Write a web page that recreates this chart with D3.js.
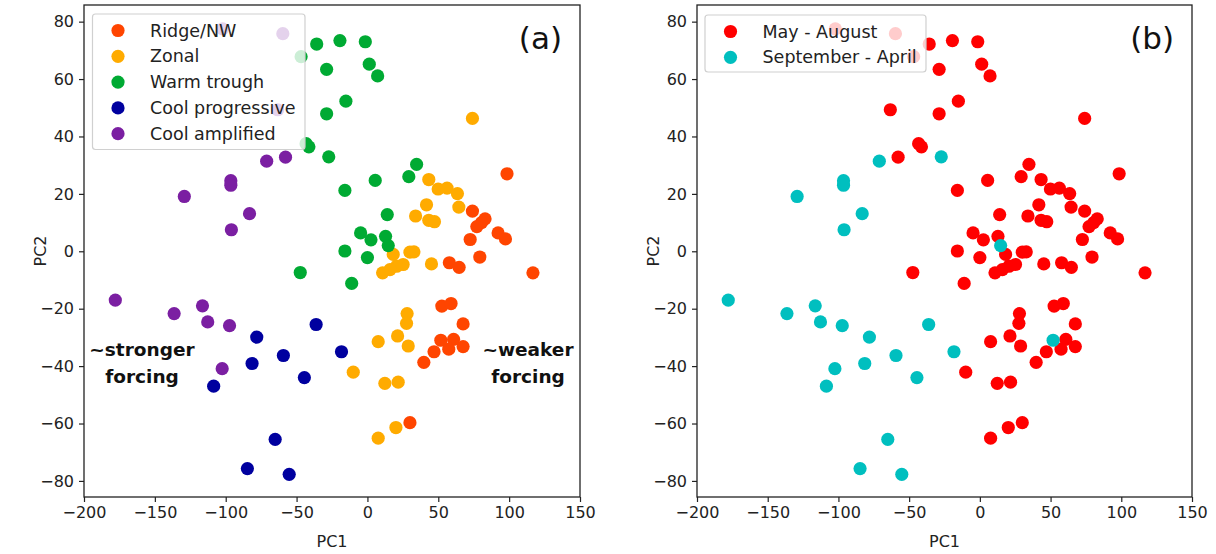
<!DOCTYPE html>
<html>
<head>
<meta charset="utf-8">
<script src="https://cdn.jsdelivr.net/npm/d3@7"></script>
<style>
  body { margin: 0; background: #fff; }
  svg { display: block; font-family: "DejaVu Sans", sans-serif; }
</style>
</head>
<body>
<svg id="chart" width="1216" height="554"></svg>
<script>
// categories
const regimes = ["Ridge/NW", "Zonal", "Warm trough", "Cool progressive", "Cool amplified"];
const regimeColors = ["#ff4500", "#ffab00", "#00aa33", "#00009f", "#7b1fa2"];
const seasons = ["May - August", "September - April"];
const seasonColors = ["#ff0000", "#00bfbf"];

// points per regime: [PC1, PC2, season index]
const ridgeNW = [
  [98.5, 27.0, 0], [74.1, 14.0, 0], [83.0, 11.3, 0], [80.5, 10.0, 0], [77.2, 8.6, 0],
  [92.2, 6.4, 0], [97.4, 4.3, 0], [72.5, 4.1, 0], [79.3, -2.0, 0], [57.8, -4.0, 0],
  [64.7, -5.6, 0], [116.8, -7.5, 0], [52.5, -19.1, 0], [59.0, -18.2, 0], [67.5, -25.3, 0],
  [51.8, -31.0, 1], [60.8, -30.7, 0], [67.5, -33.2, 0], [57.4, -34.1, 0], [47.0, -35.0, 0],
  [39.8, -38.7, 0], [30.0, -59.7, 0]
];
const zonal = [
  [74.1, 46.3, 0], [43.3, 25.0, 0], [49.9, 21.7, 0], [56.2, 22.0, 0], [63.5, 20.1, 0],
  [41.7, 16.2, 0], [64.5, 15.4, 0], [34.0, 12.3, 0], [43.3, 10.8, 0], [47.3, 10.3, 0],
  [18.2, -1.1, 0], [30.0, -0.3, 0], [32.8, -0.2, 0], [25.2, -4.6, 0], [20.6, -5.2, 0],
  [15.9, -6.4, 0], [10.7, -7.5, 0], [45.2, -4.4, 0], [28.0, -21.7, 0], [27.6, -25.1, 0],
  [21.3, -29.5, 0], [7.6, -31.5, 0], [28.8, -33.0, 0], [-10.0, -42.1, 0], [12.3, -46.0, 0],
  [21.7, -45.6, 0], [20.1, -61.4, 0], [7.6, -65.1, 0]
];
const warmTrough = [
  [-35.8, 72.2, 0], [-19.4, 73.4, 0], [-1.5, 73.0, 0], [-46.8, 67.8, 0], [-28.8, 63.4, 0],
  [1.3, 65.2, 0], [7.2, 61.1, 0], [-15.2, 52.3, 0], [-28.8, 47.9, 0], [-43.3, 37.5, 0],
  [-41.3, 36.4, 0], [-27.3, 32.9, 1], [34.7, 30.3, 0], [29.2, 26.0, 0], [5.5, 24.7, 0],
  [-15.9, 21.2, 0], [14.0, 12.8, 0], [-4.8, 6.4, 0], [2.5, 4.0, 0], [12.8, 5.2, 0],
  [14.7, 2.0, 1], [-15.9, 0.1, 0], [0.0, -2.2, 0], [-11.1, -11.2, 0], [-47.4, -7.4, 0]
];
const coolProgressive = [
  [-78.1, -29.9, 1], [-36.2, -25.5, 1], [-59.3, -36.3, 1], [-81.4, -39.1, 1], [-108.5, -47.0, 1],
  [-44.5, -44.0, 1], [-18.3, -35.0, 1], [-65.1, -65.5, 1], [-84.7, -75.7, 1], [-55.2, -77.7, 1]
];
const coolAmplified = [
  [-102.2, 77.5, 0], [-59.7, 75.8, 0], [-63.3, 49.3, 0], [-57.8, 32.8, 0], [-71.1, 31.4, 1],
  [-96.4, 24.6, 1], [-96.4, 23.0, 1], [-129.2, 19.1, 1], [-83.2, 13.1, 1], [-96.0, 7.5, 1],
  [-177.9, -17.0, 1], [-136.4, -21.7, 1], [-116.4, -19.0, 1], [-112.7, -24.6, 1], [-97.3, -25.9, 1],
  [-102.5, -40.9, 1]
];

// tick labels
const xTicks = [-200, -150, -100, -50, 0, 50, 100, 150];
const yTicks = [-80, -60, -40, -20, 0, 20, 40, 60, 80];

const groups = [ridgeNW, zonal, warmTrough, coolProgressive, coolAmplified];
const points = [];
groups.forEach((arr, r) => arr.forEach(p => points.push({pc1: p[0], pc2: p[1], regime: r, season: p[2]})));

const svg = d3.select("#chart");
const R = 6.6;

function drawPanel(left, right, label, marks, legendItems, legendBox) {
  const x = d3.scaleLinear().domain([-200, 150]).range([left, right]);
  const y = d3.scaleLinear().domain([-85.6, 85.8]).range([497, 5]);
  const g = svg.append("g");

  // x axis
  const gx = g.append("g")
    .attr("transform", "translate(0,497)")
    .call(d3.axisBottom(x).tickValues(xTicks).tickSize(5).tickPadding(5).tickFormat(d3.format("d")));
  // y axis
  const gy = g.append("g")
    .attr("transform", "translate(" + left + ",0)")
    .call(d3.axisLeft(y).tickValues(yTicks).tickSize(5).tickPadding(5).tickFormat(d3.format("d")));
  [gx, gy].forEach(a => {
    a.select(".domain").remove();
    a.selectAll(".tick line").attr("stroke", "#222").attr("stroke-width", 1.2);
    a.selectAll(".tick text").attr("fill", "#222").style("font-size", "16px")
      .style("font-family", "DejaVu Sans");
  });

  // points
  g.append("g").selectAll("circle")
    .data(marks.data)
    .enter()
    .append("circle")
    .attr("cx", d => x(d.pc1))
    .attr("cy", d => y(d.pc2))
    .attr("r", R)
    .attr("fill", marks.color);

  // frame
  g.append("rect")
    .attr("x", left).attr("y", 5)
    .attr("width", right - left).attr("height", 492)
    .attr("fill", "none").attr("stroke", "#222").attr("stroke-width", 1.3);

  // axis labels
  g.append("text")
    .attr("x", (left + right) / 2).attr("y", 547)
    .attr("text-anchor", "middle").attr("fill", "#222")
    .style("font-size", "16px").text("PC1");
  g.append("text")
    .attr("transform", "translate(" + (left - 38) + ",251) rotate(-90)")
    .attr("text-anchor", "middle").attr("fill", "#222")
    .style("font-size", "16px").text("PC2");

  // legend
  const lg = g.append("g");
  lg.append("rect")
    .attr("x", legendBox[0]).attr("y", legendBox[1])
    .attr("width", legendBox[2]).attr("height", legendBox[3])
    .attr("rx", 3)
    .attr("fill", "white").attr("fill-opacity", 0.8)
    .attr("stroke", "#d0d0d0").attr("stroke-width", 1.2);
  legendItems.forEach((it, i) => {
    const cy = legendBox[1] + 16.5 + i * 25.8;
    lg.append("circle")
      .attr("cx", legendBox[0] + 25.5).attr("cy", cy).attr("r", R)
      .attr("fill", it.color);
    lg.append("text")
      .attr("x", legendBox[0] + 57.5).attr("y", cy + 6)
      .attr("fill", "#222").style("font-size", "17.5px")
      .text(it.name);
  });

  // panel label
  g.append("text")
    .attr("x", right - 18).attr("y", 49)
    .attr("text-anchor", "end").attr("fill", "#111")
    .style("font-size", "31px").text(label);

  return {x, y, g};
}

// panel (a) - colored by regime
const pa = drawPanel(84, 580, "(a)",
  {data: points, color: d => regimeColors[d.regime]},
  regimes.map((n, i) => ({name: n, color: regimeColors[i]})),
  [92.5, 14, 212.5, 135.5]);

// forcing annotations
[["~stronger", "forcing", 142], ["~weaker", "forcing", 528]].forEach(t => {
  const txt = pa.g.append("text")
    .attr("text-anchor", "middle").attr("fill", "#111")
    .style("font-size", "18.5px").style("font-weight", "bold");
  txt.append("tspan").attr("x", t[2]).attr("y", 356).text(t[0]);
  txt.append("tspan").attr("x", t[2]).attr("y", 383).text(t[1]);
});

// panel (b) - colored by season, May-Aug drawn first
const bySeason = points.filter(d => d.season === 0).concat(points.filter(d => d.season === 1));
drawPanel(697, 1192, "(b)",
  {data: bySeason, color: d => seasonColors[d.season]},
  seasons.map((n, i) => ({name: n, color: seasonColors[i]})),
  [705, 15, 221, 57]);
</script>
</body>
</html>
